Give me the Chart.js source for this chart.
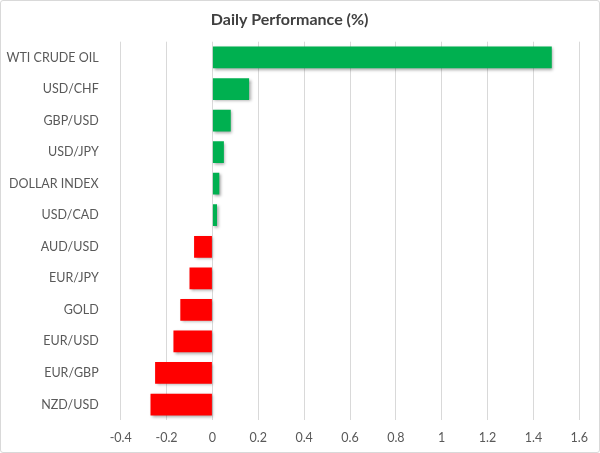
<!DOCTYPE html>
<html>
<head>
<meta charset="utf-8">
<script src="https://cdn.jsdelivr.net/npm/chart.js@4"></script>
<style>
  html, body { margin: 0; padding: 0; background: #fff; }
  #wrap {
    width: 598px; height: 451px;
    border: 1px solid #d9d9d9; border-radius: 3px;
    position: relative;
  }
  canvas { position: absolute; left: -1px; top: -1px; }
</style>
</head>
<body>
<div id="wrap"><canvas id="perfChart" width="600" height="453"></canvas></div>
<script>
const categories = ["WTI CRUDE OIL", "USD/CHF", "GBP/USD", "USD/JPY", "DOLLAR INDEX", "USD/CAD",
                    "AUD/USD", "EUR/JPY", "GOLD", "EUR/USD", "EUR/GBP", "NZD/USD"];
const performance = [1.48, 0.16, 0.08, 0.05, 0.03, 0.02, -0.08, -0.10, -0.14, -0.17, -0.25, -0.27];
const xTicks = [-0.4, -0.2, 0, 0.2, 0.4, 0.6, 0.8, 1, 1.2, 1.4, 1.6];

const GREEN = "#00b050";
const RED = "#ff0000";

// soft drop shadow like the Excel bars
const barShadow = {
  id: "barShadow",
  beforeDatasetsDraw(chart) {
    const c = chart.ctx;
    c.save();
    c.shadowColor = "rgba(0,0,0,0.35)";
    c.shadowBlur = 3;
    c.shadowOffsetX = 1.5;
    c.shadowOffsetY = 1.5;
  },
  afterDatasetsDraw(chart) {
    chart.ctx.restore();
  }
};

const ctx = document.getElementById("perfChart").getContext("2d");
new Chart(ctx, {
  type: "bar",
  data: {
    labels: categories,
    datasets: [{
      label: "Daily Performance (%)",
      data: performance,
      backgroundColor: performance.map(v => v >= 0 ? GREEN : RED),
      borderWidth: 0,
      barPercentage: 0.69,
      categoryPercentage: 1
    }]
  },
  options: {
    indexAxis: "y",
    responsive: false,
    animation: false,
    layout: { padding: { left: 0, right: 20.7, top: 0, bottom: 0 } },
    plugins: {
      legend: { display: false },
      tooltip: { enabled: false },
      title: {
        display: true,
        text: "Daily Performance (%)",
        color: "#404040",
        font: { family: "Lato", size: 16, weight: "bold" },
        padding: { top: 10.4, bottom: 12.1 }
      }
    },
    scales: {
      x: {
        min: -0.4,
        max: 1.6,
        afterBuildTicks: scale => { scale.ticks = xTicks.map(v => ({ value: v })); },
        afterFit: scale => { scale.height = 32.7; },
        grid: { color: "#d9d9d9", drawTicks: false },
        border: { display: false },
        ticks: {
          color: "#595959",
          font: { family: "Lato", size: 12.5 },
          padding: 10,
          callback: v => String(Math.round(v * 10) / 10)
        }
      },
      y: {
        afterFit: scale => { scale.width = 120.7; },
        grid: { display: false },
        border: { display: false },
        ticks: {
          color: "#595959",
          font: { family: "Lato", size: 12.5 },
          padding: 14,
          autoSkip: false
        }
      }
    }
  },
  plugins: [barShadow]
});
</script>
</body>
</html>
